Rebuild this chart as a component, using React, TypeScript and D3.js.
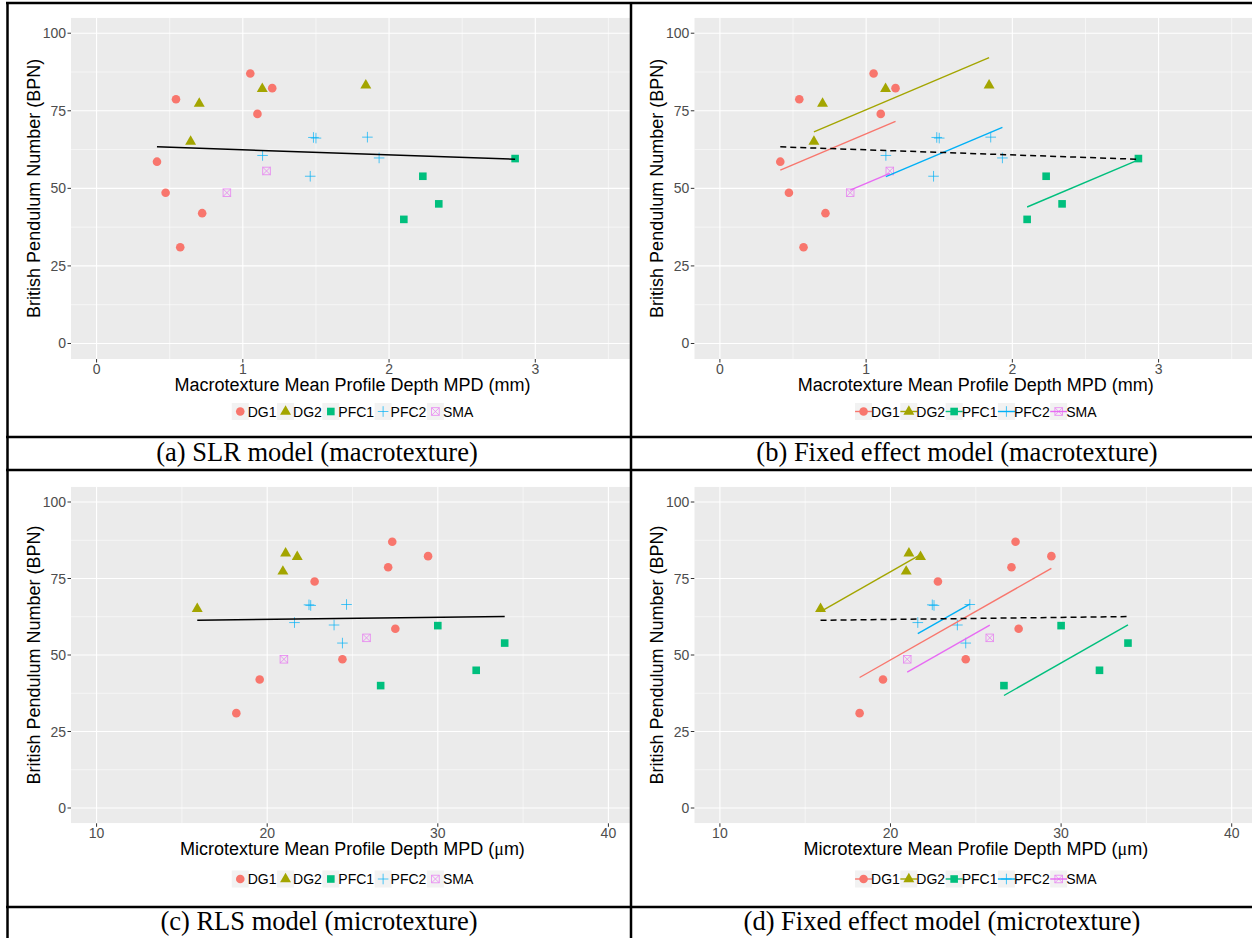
import React from 'react';
import * as d3 from 'd3';

// ---------------- data ----------------
const groupNames = ['DG1', 'DG2', 'PFC1', 'PFC2', 'SMA'];
const groupColors = ['#F8766D', '#A3A500', '#00BF7D', '#00B0F6', '#E76BF3'];

// one entry per measured section
const pointGroup = [0, 0, 0, 0, 0, 0, 0, 0, 1, 1, 1, 1, 2, 2, 2, 2, 3, 3, 3, 3, 3, 3, 4, 4];
const macroMPD = [0.413, 0.472, 0.543, 0.572, 0.722, 1.051, 1.1, 1.201,
  0.643, 0.702, 1.133, 1.841,
  2.101, 2.231, 2.34, 2.862,
  1.135, 1.461, 1.483, 1.5, 1.852, 1.932,
  0.891, 1.162];
const microMPD = [27.51, 24.41, 27.09, 18.19, 19.56, 27.33, 22.78, 29.43,
  15.9, 20.92, 21.76, 21.08,
  26.65, 33.92, 32.25, 30.0,
  21.6, 24.41, 22.45, 22.55, 24.65, 23.92,
  20.98, 25.82];
const bpn = [58.6, 48.6, 78.7, 31.0, 42.0, 87.0, 74.0, 82.3,
  65.1, 77.3, 82.1, 83.2,
  40.0, 53.9, 45.0, 59.6,
  60.6, 53.9, 66.4, 66.2, 66.5, 59.8,
  48.6, 55.6];

const bpnTicks = [0, 25, 50, 75, 100];
const bpnMinor = [12.5, 37.5, 62.5, 87.5];
const macroTicks = [0, 1, 2, 3];
const macroMinor = [0.5, 1.5, 2.5, 3.5];
const microTicks = [10, 20, 30, 40];
const microMinor = [15, 25, 35];

const captions = [
  '(a) SLR model (macrotexture)',
  '(b) Fixed effect model (macrotexture)',
  '(c) RLS model (microtexture)',
  '(d) Fixed effect model (microtexture)',
];

// ---------------- helpers ----------------
const SANS = "'Liberation Sans', Arial, Helvetica, sans-serif";
const SERIF = "'Liberation Serif', 'Times New Roman', serif";

function slr(xs: number[], ys: number[]) {
  const mx = d3.mean(xs)!;
  const my = d3.mean(ys)!;
  let sxy = 0, sxx = 0;
  xs.forEach((v, i) => { sxy += (v - mx) * (ys[i] - my); sxx += (v - mx) * (v - mx); });
  const slope = sxy / sxx;
  const [x0, x1] = d3.extent(xs) as [number, number];
  return { slope, intercept: my - slope * mx, x0, x1 };
}

function fixedEffect(xs: number[], ys: number[], g: number[]) {
  let sxy = 0, sxx = 0;
  const stats = groupNames.map((_, k) => {
    const idx = g.map((v, i) => (v === k ? i : -1)).filter(i => i >= 0);
    const gx = idx.map(i => xs[i]);
    const gy = idx.map(i => ys[i]);
    const mx = d3.mean(gx)!, my = d3.mean(gy)!;
    gx.forEach((v, j) => { sxy += (v - mx) * (gy[j] - my); sxx += (v - mx) * (v - mx); });
    const [x0, x1] = d3.extent(gx) as [number, number];
    return { mx, my, x0, x1 };
  });
  const slope = sxy / sxx;
  return stats.map(s => ({ slope, intercept: s.my - slope * s.mx, x0: s.x0, x1: s.x1 }));
}

let _ctx: CanvasRenderingContext2D | null = null;
function measure(text: string, size: number) {
  if (!_ctx) _ctx = document.createElement('canvas').getContext('2d');
  if (!_ctx) return text.length * size * 0.6;
  _ctx.font = `${size}px 'Liberation Sans'`;
  return _ctx.measureText(text).width;
}

function Marker({ g, cx, cy }: { g: number; cx: number; cy: number }) {
  const c = groupColors[g];
  if (g === 0) return <circle cx={cx} cy={cy} r={4.3} fill={c} />;
  if (g === 1) return <path d={d3.symbol(d3.symbolTriangle, 52)()!} transform={`translate(${cx},${cy})`} fill={c} />;
  if (g === 2) return <rect x={cx - 3.8} y={cy - 3.8} width={7.6} height={7.6} fill={c} />;
  if (g === 3)
    return <path d={`M${cx - 5.3},${cy}H${cx + 5.3}M${cx},${cy - 5.3}V${cy + 5.3}`} stroke={c} strokeWidth={1} opacity={0.7} fill="none" />;
  const h = 3.8;
  return (
    <g stroke={c} strokeWidth={0.8} fill="none" opacity={0.8}>
      <rect x={cx - h} y={cy - h} width={2 * h} height={2 * h} />
      <path d={`M${cx - h},${cy - h}L${cx + h},${cy + h}M${cx - h},${cy + h}L${cx + h},${cy - h}`} />
    </g>
  );
}

type PanelProps = {
  id: string;
  L: number; T: number; W: number; H: number; clipRight?: number;
  xDomain: [number, number]; xTicks: number[]; xMinor: number[];
  xs: number[]; fixed: boolean; micro: boolean; legendY: number;
};

function Panel({ id, L, T, W, H, clipRight, xDomain, xTicks, xMinor, xs, fixed, micro, legendY }: PanelProps) {
  const x = d3.scaleLinear().domain(xDomain).range([L, L + W]);
  const y = d3.scaleLinear().domain([-5, 105]).range([T + H, T]);
  const overall = slr(xs, bpn);
  const groupFits = fixed ? fixedEffect(xs, bpn, pointGroup) : [];
  const right = clipRight ?? L + W;
  const line = d3.line<[number, number]>().x(d => x(d[0])).y(d => y(d[1]));

  // legend layout
  const tw = groupNames.map(n => measure(n, 14));
  const centers: number[] = [];
  let cur = 0;
  tw.forEach((w, i) => { centers.push(cur); cur += 7.5 + w + 9; });
  const legendEnd = centers[centers.length - 1] + 7.5 + tw[tw.length - 1];
  const legendStart = -8.5;
  const panelCenter = L + W / 2;
  const shift = panelCenter - (legendStart + legendEnd) / 2;

  const bottom = T + H;
  return (
    <g>
      <defs>
        <clipPath id={id}>
          <rect x={L} y={T} width={right - L} height={H} />
        </clipPath>
      </defs>
      <g clipPath={`url(#${id})`}>
        <rect x={L} y={T} width={W} height={H} fill="#EBEBEB" />
        {bpnMinor.map(v => <line key={'ym' + v} x1={L} x2={L + W} y1={y(v)} y2={y(v)} stroke="#fff" strokeWidth={0.55} />)}
        {xMinor.map(v => <line key={'xm' + v} x1={x(v)} x2={x(v)} y1={T} y2={bottom} stroke="#fff" strokeWidth={0.55} />)}
        {bpnTicks.map(v => <line key={'y' + v} x1={L} x2={L + W} y1={y(v)} y2={y(v)} stroke="#fff" strokeWidth={1.1} />)}
        {xTicks.map(v => <line key={'x' + v} x1={x(v)} x2={x(v)} y1={T} y2={bottom} stroke="#fff" strokeWidth={1.1} />)}
        {bpn.map((v, i) => <Marker key={'p' + i} g={pointGroup[i]} cx={x(xs[i])} cy={y(v)} />)}
        {groupFits.map((f, k) => (
          <path key={'f' + k} d={line([[f.x0, f.intercept + f.slope * f.x0], [f.x1, f.intercept + f.slope * f.x1]])!}
            stroke={groupColors[k]} strokeWidth={1.4} fill="none" />
        ))}
        <path d={line([[overall.x0, overall.intercept + overall.slope * overall.x0], [overall.x1, overall.intercept + overall.slope * overall.x1]])!}
          stroke="#000" strokeWidth={1.5} fill="none" strokeDasharray={fixed ? '6,4' : undefined} />
      </g>
      {/* y axis */}
      {bpnTicks.map(v => (
        <g key={'yt' + v}>
          <line x1={L - 3.5} x2={L} y1={y(v)} y2={y(v)} stroke="#333" strokeWidth={1} />
          <text x={L - 5} y={y(v) + 5} textAnchor="end" fontFamily={SANS} fontSize={14} fill="#4D4D4D">{v}</text>
        </g>
      ))}
      {/* x axis */}
      {xTicks.map(v => (
        <g key={'xt' + v}>
          <line x1={x(v)} x2={x(v)} y1={bottom} y2={bottom + 3.5} stroke="#333" strokeWidth={1} />
          <text x={x(v)} y={bottom + 14.7} textAnchor="middle" fontFamily={SANS} fontSize={14} fill="#4D4D4D">{v}</text>
        </g>
      ))}
      <text x={L + W / 2} y={bottom + 31.7} textAnchor="middle" fontFamily={SANS} fontSize={18} fill="#000">
        {micro ? <>Microtexture Mean Profile Depth MPD (<tspan fontFamily={SERIF}>μ</tspan>m)</> : 'Macrotexture Mean Profile Depth MPD (mm)'}
      </text>
      <text transform={`translate(${L - 31.5},${T + H / 2}) rotate(-90)`} textAnchor="middle" fontFamily={SANS} fontSize={18} fill="#000">
        British Pendulum Number (BPN)
      </text>
      {/* legend */}
      {groupNames.map((n, k) => {
        const cx = centers[k] + shift;
        return (
          <g key={'lg' + k}>
            <rect x={cx - 8.5} y={legendY - 8.5} width={17} height={17} fill="#F2F2F2" />
            {fixed && <line x1={cx - 8.5} x2={cx + 8.5} y1={legendY} y2={legendY} stroke={groupColors[k]} strokeWidth={1.4} />}
            <Marker g={k} cx={cx} cy={legendY} />
            <text x={cx + 7.5} y={legendY + 5} fontFamily={SANS} fontSize={14} fill="#000">{n}</text>
          </g>
        );
      })}
    </g>
  );
}

export default function App() {
  const topT = 17.7, topH = 341.3;
  const botT = 486.7, botH = 336.6;
  const leftL = 71, rightL = 694.3, W = 563;
  const macroDomain: [number, number] = [-0.175, 3.675];
  const microDomain: [number, number] = [8.5, 41.5];
  return (
    <svg width={1252} height={938} style={{ position: 'absolute', left: 0, top: 0, background: '#fff' }}>
      <rect x={0} y={0} width={1252} height={938} fill="#fff" />
      <Panel id="ca" L={leftL} T={topT} W={W} H={topH} clipRight={630} xDomain={macroDomain} xTicks={macroTicks}
        xMinor={macroMinor} xs={macroMPD} fixed={false} micro={false} legendY={411.5} />
      <Panel id="cb" L={rightL} T={topT} W={W} H={topH} xDomain={macroDomain} xTicks={macroTicks}
        xMinor={macroMinor} xs={macroMPD} fixed={true} micro={false} legendY={411.5} />
      <Panel id="cc" L={leftL} T={botT} W={W} H={botH} clipRight={630} xDomain={microDomain} xTicks={microTicks}
        xMinor={microMinor} xs={microMPD} fixed={false} micro={true} legendY={879} />
      <Panel id="cd" L={rightL} T={botT} W={W} H={botH} xDomain={microDomain} xTicks={microTicks}
        xMinor={microMinor} xs={microMPD} fixed={true} micro={true} legendY={879} />
      {/* table rules */}
      <g stroke="#000" strokeWidth={2.5}>
        <line x1={6} x2={1252} y1={3} y2={3} />
        <line x1={7.5} x2={7.5} y1={2} y2={938} />
        <line x1={631} x2={631} y1={2} y2={938} />
        <line x1={6} x2={1252} y1={437} y2={437} />
        <line x1={6} x2={1252} y1={470} y2={470} />
        <line x1={6} x2={1252} y1={907} y2={907} />
      </g>
      <g fontFamily={SERIF} fontSize={26.5} fill="#000" textAnchor="middle">
        <text x={317} y={461}>{captions[0]}</text>
        <text x={957} y={461}>{captions[1]}</text>
        <text x={319} y={929.5}>{captions[2]}</text>
        <text x={942} y={929.5}>{captions[3]}</text>
      </g>
    </svg>
  );
}
